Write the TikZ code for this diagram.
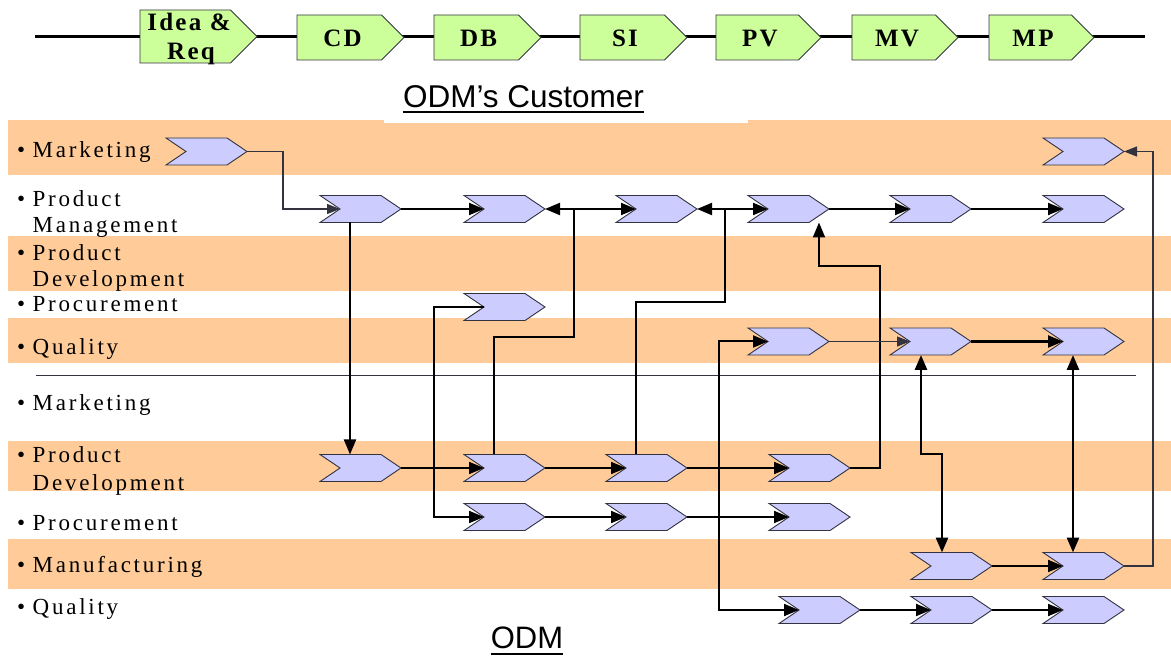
\documentclass[tikz,border=0pt]{standalone}
\usepackage{fontspec}
\setmainfont{Liberation Serif}
\newfontfamily\lblfont[LetterSpace=12]{Liberation Serif}
\newfontfamily\stagefont[LetterSpace=9]{Liberation Serif}
\newfontfamily\titlefont{Liberation Sans}
\usetikzlibrary{arrows.meta,calc}

\definecolor{bandorange}{HTML}{FFCC99}
\definecolor{chevblue}{HTML}{CCCCFF}
\definecolor{stagegreen}{HTML}{CCFF99}
\definecolor{edgegray}{HTML}{333340}

\tikzset{
  chevbox/.style={minimum width=81pt, minimum height=27pt, inner sep=0pt, outer sep=0pt, anchor=west},
  chevline/.style={draw=edgegray, fill=chevblue, line width=0.9pt, line join=miter},
  stageline/.style={draw=edgegray, fill=stagegreen, line width=0.9pt, line join=miter},
  tip/.tip={Triangle[length=15pt,width=12pt]},
  smalltip/.tip={Triangle[length=13pt,width=10pt]},
  flow/.style={line width=2pt, -tip},
  thinflow/.style={line width=1.1pt, draw=edgegray, -smalltip},
  bothflow/.style={line width=2pt, tip-tip},
  heavyboth/.style={line width=2.8pt, tip-tip},
  lbl/.style={anchor=base west, inner sep=0pt, font=\lblfont\fontsize{23}{23}\selectfont},
  stagetxt/.style={anchor=base, inner sep=0pt, font=\stagefont\bfseries\fontsize{25}{25}\selectfont},
}

% blue chevron: name, left x, centre y
\newcommand\chev[3]{%
  \node[chevbox] (#1) at (#2,#3) {};
  \draw[chevline] (#1.north west) -- ([xshift=-20pt]#1.north east) -- (#1.east)
    -- ([xshift=-20pt]#1.south east) -- (#1.south west) -- ([xshift=20pt]#1.west) -- cycle;
  \coordinate (#1-n) at ([xshift=20pt]#1.west);
}
% green stage box: name, left x, tip x, top y, bottom y
\newcommand\stagebox[5]{%
  \path (#2,#4) coordinate (#1-tl) (#3,#5) coordinate (#1-br);
  \node[inner sep=0pt, outer sep=0pt] (#1) at ($(#1-tl)!0.5!(#1-br)$) {};
  \draw[stageline] (#1-tl) -- ($(#1-tl -| #1-br)+({-((#5)-(#4))/2},0)$) -- (#1-br |- #1)
    -- ($(#1-br)+({-((#5)-(#4))/2},0)$) -- (#1-tl |- #1-br) -- cycle;
}

\begin{document}
\begin{tikzpicture}[x=1pt, y=-1pt]
\useasboundingbox (0,0) rectangle (1171,660);

% swim lanes
\fill[bandorange] (8,120) rectangle (1171,175);
\fill[bandorange] (8,236) rectangle (1171,291);
\fill[bandorange] (8,318) rectangle (1171,363);
\fill[bandorange] (8,441) rectangle (1171,491);
\fill[bandorange] (8,539) rectangle (1171,589);
\fill[white] (384,110) rectangle (748,123.3);
\draw[edgegray, line width=0.8pt] (36,375) -- (1136,375);

% phase line
\draw[line width=3pt] (35,37) -- (1145,37);
\stagebox{idea}{140}{257}{10}{63}
\stagebox{cd}{297}{404}{15}{60}
\stagebox{db}{434}{541}{15}{60}
\stagebox{si}{580}{687}{15}{60}
\stagebox{pv}{716}{821}{15}{60}
\stagebox{mv}{852}{958}{15}{60}
\stagebox{mp}{989}{1094}{15}{60}
\node[stagetxt] (t-idea1) at (189,31) {Idea \&};
\node[stagetxt] (t-idea2) at (191,60) {Req};
\node[stagetxt] (t-cd) at (342.5,46.5) {CD};
\node[stagetxt] (t-db) at (478.5,46.5) {DB};
\node[stagetxt] (t-si) at (625,46.5) {SI};
\node[stagetxt] (t-pv) at (760,46.5) {PV};
\node[stagetxt] (t-mv) at (897,46.5) {MV};
\node[stagetxt] (t-mp) at (1033,46.5) {MP};

% headings
\node[anchor=base, inner sep=0pt, font=\titlefont\fontsize{31.5}{31.5}\selectfont] (cust) at (523.5,107.7) {ODM’s Customer};
\draw[line width=2pt] ([yshift=-4.6pt]cust.base west) -- ([yshift=-4.6pt]cust.base east);
\node[anchor=base, inner sep=0pt, font=\titlefont\fontsize{31}{31}\selectfont] (odm) at (527,648) {ODM};
\draw[line width=2pt] ([yshift=-6pt]odm.base west) -- ([yshift=-6pt]odm.base east);

% lane labels
\node[lbl] (l-cm) at (17,158) {\makebox[15.5pt][l]{•}Marketing};
\node[lbl] (l-cpm1) at (17,207) {\makebox[15.5pt][l]{•}Product};
\node[lbl] (l-cpm2) at (32.5,233) {Management};
\node[lbl] (l-cpd1) at (17,261) {\makebox[15.5pt][l]{•}Product};
\node[lbl] (l-cpd2) at (32.5,287) {Development};
\node[lbl] (l-cpr) at (17,312) {\makebox[15.5pt][l]{•}Procurement};
\node[lbl] (l-cq) at (17,355) {\makebox[15.5pt][l]{•}Quality};
\node[lbl] (l-om) at (17,410) {\makebox[15.5pt][l]{•}Marketing};
\node[lbl] (l-opd1) at (17,463) {\makebox[15.5pt][l]{•}Product};
\node[lbl] (l-opd2) at (32.5,490) {Development};
\node[lbl] (l-opr) at (17,530) {\makebox[15.5pt][l]{•}Procurement};
\node[lbl] (l-omf) at (17,572) {\makebox[15.5pt][l]{•}Manufacturing};
\node[lbl] (l-oq) at (17,614) {\makebox[15.5pt][l]{•}Quality};

% customer activities
\chev{ma}{166}{151.5}
\chev{mb}{1043}{151.5}
\chev{pm1}{320}{209}
\chev{pm2}{464}{209}
\chev{pm3}{616}{209}
\chev{pm4}{748}{209}
\chev{pm5}{890}{209}
\chev{pm6}{1043}{209}
\chev{cp}{464}{307}
\chev{cq1}{748}{341.5}
\chev{cq2}{890}{341.5}
\chev{cq3}{1043}{341.5}

% ODM activities
\chev{od1}{320}{468}
\chev{od2}{464}{468}
\chev{od3}{606}{468}
\chev{od4}{769}{468}
\chev{op1}{464}{517}
\chev{op2}{606}{517}
\chev{op3}{769}{517}
\chev{om1}{911}{566}
\chev{om2}{1043}{566}
\chev{oq1}{779}{610}
\chev{oq2}{911}{610}
\chev{oq3}{1043}{610}

% junctions on the product management lane
\coordinate (j1) at ([xshift=29pt]pm2.east);
\coordinate (j2) at ([xshift=28pt]pm3.east);

% connectors
\draw[thinflow] (ma.east) -- ++(36,0) |- (pm1-n);
\draw[flow] (pm1.east) -- (pm2-n);
\draw[flow] ([xshift=30pt]pm1.south west) -- ([xshift=30pt]od1.north west);
\draw[flow] (od1.east) -- (od2-n);
\draw[flow] ([xshift=30pt]od2.north west) -- ++(0,-117) -| (j1) -- (pm2.east);
\draw[flow] (j1) -- (pm3-n);
\draw[flow] ([xshift=30pt]od3.north west) -- ++(0,-152) -| (j2) -- (pm3.east);
\draw[flow] (j2) -- (pm4-n);
\draw[flow] (pm4.east) -- (pm5-n);
\draw[flow] (pm5.east) -- (pm6-n);
\draw[flow] (od2.east) -- (od3-n);
\draw[flow] (od3.east) -- (od4-n);
\draw[flow] (od4.east) -- ++(30,0) -- ++(0,-202) -| ([xshift=71pt]pm4.south west);
\draw[flow] (cp-n) -- ++(-50,0) |- (op1-n);
\draw[flow] (op1.east) -- (op2-n);
\draw[flow] (op2.east) -- (op3-n);
\draw[bothflow] (cq1-n) -- ++(-49,0) |- (oq1-n);
\draw[thinflow] (cq1.east) -- (cq2-n);
\draw[flow, line width=2.4pt] (cq2.east) -- (cq3-n);
\draw[flow] (oq1.east) -- (oq2-n);
\draw[flow] (oq2.east) -- (oq3-n);
\draw[heavyboth] ([xshift=31pt]cq2.south west) -- ++(0,99) -| ([xshift=31pt]om1.north west);
\draw[heavyboth] ([xshift=30pt]cq3.south west) -- ([xshift=30pt]om2.north west);
\draw[flow] (om1.east) -- (om2-n);
\draw[thinflow] (om2.east) -- ++(29,0) |- (mb.east);
\end{tikzpicture}
\end{document}
